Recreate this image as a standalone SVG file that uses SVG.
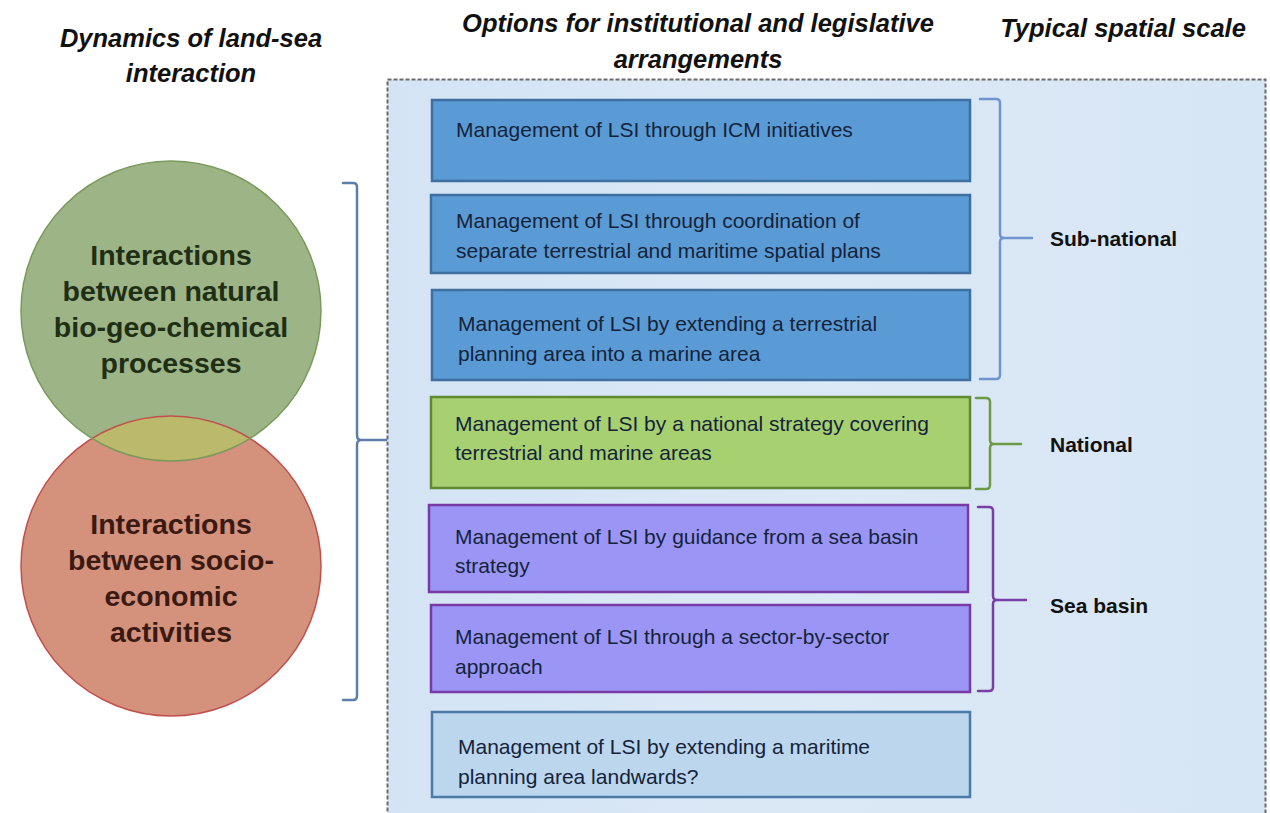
<svg xmlns="http://www.w3.org/2000/svg" width="1270" height="813" viewBox="0 0 1270 813">
  <defs>
    <style>
      .title { font-family: "Liberation Sans", Arial, sans-serif; font-weight: bold; font-style: italic; font-size: 25.5px; fill: #111; text-anchor: middle; }
      .circ { font-family: "Liberation Sans", Arial, sans-serif; font-weight: bold; font-size: 28.5px; text-anchor: middle; }
      .opt { font-family: "Liberation Sans", Arial, sans-serif; font-size: 21px; fill: #14233a; }
      .scale { font-family: "Liberation Sans", Arial, sans-serif; font-weight: bold; font-size: 21px; fill: #111; }
      .blue { fill: #5b9bd5; stroke: #3f6f9f; stroke-width: 2.5; }
      .green { fill: #a7d071; stroke: #5f8a33; stroke-width: 2.5; }
      .purple { fill: #9b96f6; stroke: #7a3aa6; stroke-width: 2.5; }
      .light { fill: #bcd6ee; stroke: #4a7aa6; stroke-width: 2.5; }
      .br { fill: none; stroke-width: 2.5; stroke-linejoin: round; stroke-linecap: round; }
    </style>
    <linearGradient id="panelFill" x1="0" y1="0" x2="1" y2="0">
      <stop offset="0" stop-color="#d4e4f5"/>
      <stop offset="0.5" stop-color="#dbe8f6"/>
      <stop offset="1" stop-color="#d7e6f5"/>
    </linearGradient>
    <clipPath id="greenClip">
      <circle cx="171" cy="311" r="150"/>
    </clipPath>
  </defs>

  <rect width="1270" height="813" fill="#ffffff"/>

  <!-- column headings -->
  <g id="headings">
    <text class="title" x="191" y="47">Dynamics of land-sea</text>
    <text class="title" x="191" y="82">interaction</text>
    <text class="title" x="698" y="32">Options for institutional and legislative</text>
    <text class="title" x="698" y="68">arrangements</text>
    <text class="title" x="1123" y="37">Typical spatial scale</text>
  </g>

  <!-- panel holding the options -->
  <rect id="panel" x="387.5" y="79.5" width="878" height="760" fill="url(#panelFill)" stroke="#6b6b6b" stroke-width="2" stroke-dasharray="4 2"/>

  <!-- land-sea interaction circles -->
  <g id="circle-natural">
    <circle cx="171" cy="311" r="150" fill="#9db487"/>
  </g>
  <g id="circle-socio">
    <circle cx="171" cy="566" r="150" fill="#d4917c"/>
  </g>
  <g id="circle-overlap">
    <circle cx="171" cy="566" r="150" fill="#bbb96c" clip-path="url(#greenClip)"/>
    <circle cx="171" cy="566" r="150" fill="none" stroke="#c0504d" stroke-width="1.5"/>
    <circle cx="171" cy="311" r="150" fill="none" stroke="#7a9a5c" stroke-width="1.5"/>
  </g>
  <g id="circle-labels">
    <text class="circ" x="171" y="265" fill="#1f2f16">Interactions</text>
    <text class="circ" x="171" y="301" fill="#1f2f16">between natural</text>
    <text class="circ" x="171" y="337" fill="#1f2f16">bio-geo-chemical</text>
    <text class="circ" x="171" y="373" fill="#1f2f16">processes</text>
    <text class="circ" x="171" y="534" fill="#3a1a12">Interactions</text>
    <text class="circ" x="171" y="570" fill="#3a1a12">between socio-</text>
    <text class="circ" x="171" y="606" fill="#3a1a12">economic</text>
    <text class="circ" x="171" y="642" fill="#3a1a12">activities</text>
  </g>

  <!-- option boxes -->
  <g id="opt-icm">
    <rect class="blue" x="432" y="100" width="538" height="81"/>
    <text class="opt" x="456" y="137">Management of LSI through ICM initiatives</text>
  </g>
  <g id="opt-coordination">
    <rect class="blue" x="431" y="195" width="539" height="78"/>
    <text class="opt" x="456" y="228">Management of LSI through coordination of</text>
    <text class="opt" x="456" y="258">separate terrestrial and maritime spatial plans</text>
  </g>
  <g id="opt-terrestrial">
    <rect class="blue" x="432" y="290" width="538" height="90"/>
    <text class="opt" x="458" y="331">Management of LSI by extending a terrestrial</text>
    <text class="opt" x="458" y="361">planning area into a marine area</text>
  </g>
  <g id="opt-national">
    <rect class="green" x="431" y="397" width="539" height="91"/>
    <text class="opt" x="455" y="431">Management of LSI by a national strategy covering</text>
    <text class="opt" x="455" y="460">terrestrial and marine areas</text>
  </g>
  <g id="opt-seabasin">
    <rect class="purple" x="429" y="505" width="539" height="87"/>
    <text class="opt" x="455" y="544">Management of LSI by guidance from a sea basin</text>
    <text class="opt" x="455" y="573">strategy</text>
  </g>
  <g id="opt-sector">
    <rect class="purple" x="431" y="605" width="539" height="87"/>
    <text class="opt" x="455" y="644">Management of LSI through a sector-by-sector</text>
    <text class="opt" x="455" y="674">approach</text>
  </g>
  <g id="opt-maritime">
    <rect class="light" x="432" y="712" width="538" height="85"/>
    <text class="opt" x="458" y="754">Management of LSI by extending  a maritime</text>
    <text class="opt" x="458" y="784">planning area landwards?</text>
  </g>

  <!-- scale labels -->
  <g id="scale-subnational">
    <text class="scale" x="1050" y="246">Sub-national</text>
  </g>
  <g id="scale-national">
    <text class="scale" x="1050" y="452">National</text>
  </g>
  <g id="scale-seabasin">
    <text class="scale" x="1050" y="613">Sea basin</text>
  </g>

  <!-- brackets -->
  <g id="connectors">
    <path class="br" stroke="#5b7fa8" d="M 343 183 H 353 Q 357 183 357 187 V 435 Q 357 440 361 440 H 386 M 361 440 Q 357 440 357 445 V 696 Q 357 700 353 700 H 343"/>
    <path class="br" stroke="#6f95cc" d="M 980 99 H 996 Q 1000 99 1000 103 V 234 Q 1000 238 1004 238 H 1032 M 1004 238 Q 1000 238 1000 242 V 375 Q 1000 379 996 379 H 980"/>
    <path class="br" stroke="#6e9a45" d="M 976 398 H 986 Q 990 398 990 402 V 440 Q 990 444 994 444 H 1021 M 994 444 Q 990 444 990 448 V 485 Q 990 489 986 489 H 976"/>
    <path class="br" stroke="#7b3da8" d="M 978 507 H 989 Q 993 507 993 511 V 596 Q 993 600 997 600 H 1026 M 997 600 Q 993 600 993 604 V 687 Q 993 691 989 691 H 978"/>
  </g>
</svg>
